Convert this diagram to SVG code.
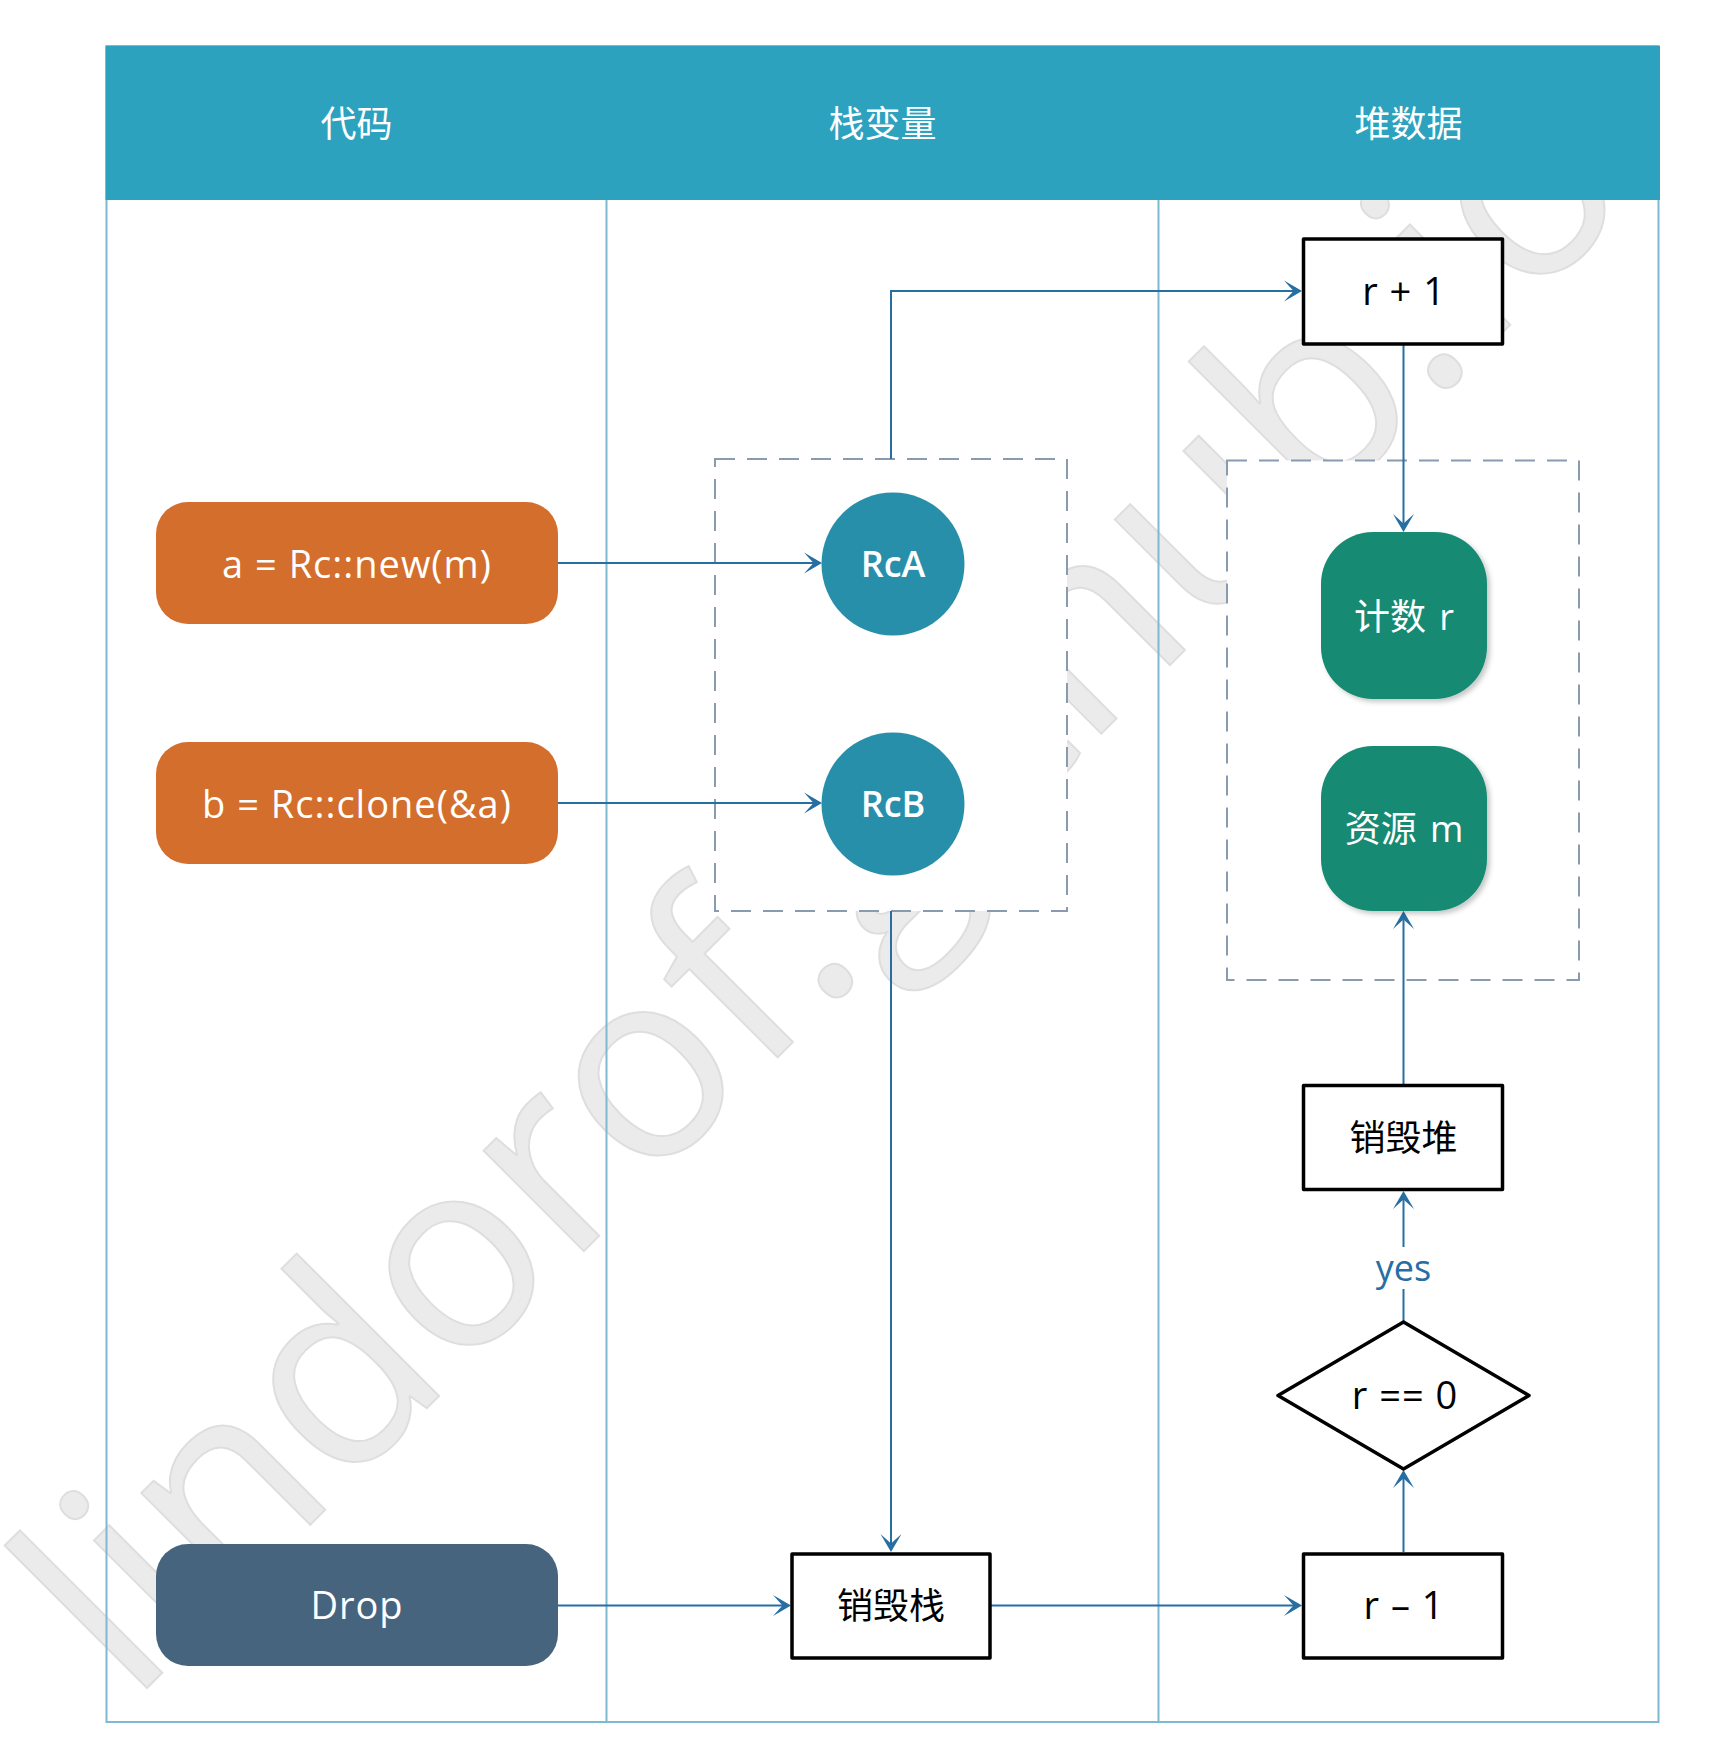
<svg xmlns="http://www.w3.org/2000/svg" width="1711" height="1761" viewBox="0 0 1711 1761">
<style>
.lane{fill:none;stroke:#7db9cf;stroke-width:2}
.hdr{font-family:"Noto Sans CJK SC","Noto Sans",sans-serif;font-size:36px;fill:#ffffff;text-anchor:middle}
.lbl{font-family:"Open Sans","Noto Sans CJK SC",sans-serif;font-size:38px;text-anchor:middle;letter-spacing:1px}
.cjk{font-family:"Open Sans","Noto Sans CJK SC",sans-serif;font-size:36px;text-anchor:middle}
.w{fill:#ffffff}
.k{fill:#000000}
.box{fill:#ffffff;stroke:#000000;stroke-width:3.5;stroke-linejoin:round}
.grp{fill:#ffffff;stroke:#8a9bb0;stroke-width:2;stroke-dasharray:20 12}
.code{fill:#d36e2d}
.circ{fill:#288faa}
.heap{fill:#158a73}
.edge{fill:none;stroke:#276ea3;stroke-width:2}
.wm{font-family:"Open Sans",sans-serif;font-size:265px;fill:#ebebeb;stroke:#dedede;stroke-width:2}
</style>
<defs>
<marker id="arr" viewBox="-19 -12 21 24" refX="-8" refY="0" markerWidth="21" markerHeight="24" markerUnits="userSpaceOnUse" orient="auto">
<path d="M0,0 L-18,-10.5 L-8.5,0 L-18,10.5 Z" fill="#276ea3"/>
</marker>
<filter id="sh" x="-20%" y="-20%" width="140%" height="140%">
<feDropShadow dx="3" dy="3" stdDeviation="2.5" flood-color="#000000" flood-opacity="0.22"/>
</filter>
</defs>
<rect x="0" y="0" width="1711" height="1761" fill="#ffffff"/>
<text class="wm" x="131" y="1704" transform="rotate(-45 131 1704)">lindorof.github.io</text>
<g id="lanes">
<rect class="lane" x="106.5" y="46" width="1552" height="1676"/>
<line class="lane" x1="606.5" y1="200" x2="606.5" y2="1722"/>
<line class="lane" x1="1158.5" y1="200" x2="1158.5" y2="1722"/>
<rect x="105.5" y="46" width="1554.5" height="154" fill="#2da2bf"/>
<text class="hdr" x="356.5" y="137">代码</text>
<text class="hdr" x="882.5" y="137">栈变量</text>
<text class="hdr" x="1408.5" y="137">堆数据</text>
</g>
<g id="stack-group"><rect class="grp" x="715" y="459" width="352" height="452"/></g>
<g id="heap-group"><rect class="grp" x="1227" y="460.5" width="352" height="519.5"/></g>
<g id="connectors">
<path class="edge" d="M558,563 L814,563" marker-end="url(#arr)"/>
<path class="edge" d="M558,803 L814,803" marker-end="url(#arr)"/>
<path class="edge" d="M891,459 L891,291 L1294,291" marker-end="url(#arr)"/>
<path class="edge" d="M1403.5,345 L1403.5,524" marker-end="url(#arr)"/>
<path class="edge" d="M891,911 L891,1544" marker-end="url(#arr)"/>
<path class="edge" d="M558,1605.5 L783,1605.5" marker-end="url(#arr)"/>
<path class="edge" d="M991,1605.5 L1294,1605.5" marker-end="url(#arr)"/>
<path class="edge" d="M1403.5,1552 L1403.5,1478" marker-end="url(#arr)"/>
<path class="edge" d="M1403.5,1322 L1403.5,1199" marker-end="url(#arr)"/>
<path class="edge" d="M1403.5,1084 L1403.5,919" marker-end="url(#arr)"/>
<rect x="1370" y="1247" width="67" height="42" fill="#ffffff"/>
<text class="cjk" x="1403.5" y="1281" fill="#276ea3">yes</text>
</g>
<g id="code-a"><rect class="code" x="156" y="502" width="402" height="122" rx="32"/><text class="lbl w" x="357" y="578">a = Rc::new(m)</text></g>
<g id="code-b"><rect class="code" x="156" y="742" width="402" height="122" rx="32"/><text class="lbl w" x="357" y="818">b = Rc::clone(&amp;a)</text></g>
<g id="code-drop"><rect x="156" y="1544" width="402" height="122" rx="32" fill="#47647f"/><text class="lbl w" x="357" y="1618.5">Drop</text></g>
<g id="rca"><circle class="circ" cx="893" cy="564" r="71.5"/><text class="cjk w" x="893" y="577" font-weight="600">RcA</text></g>
<g id="rcb"><circle class="circ" cx="893" cy="804" r="71.5"/><text class="cjk w" x="893" y="817" font-weight="600">RcB</text></g>
<g id="rplus"><rect class="box" x="1303.5" y="239" width="199" height="105"/><text class="lbl k" x="1404" y="305" letter-spacing="3">r + 1</text></g>
<g id="count"><rect class="heap" x="1321" y="532" width="166" height="167" rx="52" filter="url(#sh)"/><text class="cjk w" x="1404" y="630" word-spacing="4">计数 r</text></g>
<g id="res"><rect class="heap" x="1321" y="746" width="166" height="165" rx="52" filter="url(#sh)"/><text class="cjk w" x="1404" y="842" word-spacing="4">资源 m</text></g>
<g id="destroy-heap"><rect class="box" x="1303.5" y="1085.5" width="199" height="104"/><text class="cjk k" x="1403.5" y="1151">销毁堆</text></g>
<g id="cond"><polygon class="box" points="1403.5,1322 1529,1395.5 1403.5,1469 1278,1395.5"/><text class="lbl k" x="1405" y="1409" letter-spacing="5">r == 0</text></g>
<g id="destroy-stack"><rect class="box" x="792" y="1554" width="198" height="104"/><text class="cjk k" x="891" y="1619">销毁栈</text></g>
<g id="rminus"><rect class="box" x="1303.5" y="1554" width="199" height="104"/><text class="lbl k" x="1404" y="1619" letter-spacing="2">r – 1</text></g>
</svg>
